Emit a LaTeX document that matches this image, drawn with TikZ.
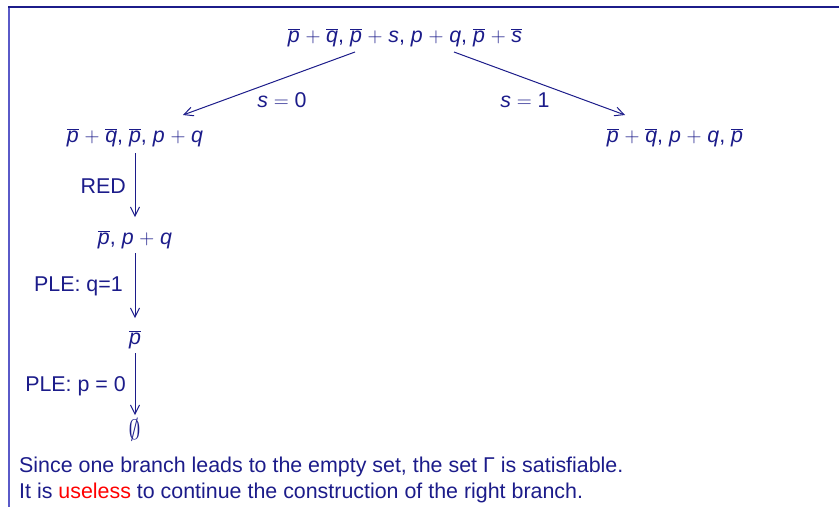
\documentclass[tikz,border=0pt]{standalone}
\usepackage{fontspec}
\usepackage{graphicx}
\setmainfont{Liberation Sans}
\usetikzlibrary{arrows.meta}
\definecolor{txtblue}{RGB}{28,28,138}
\definecolor{framelight}{RGB}{90,90,200}
\newcommand\olv[1]{\ensuremath{\overline{\mbox{\itshape #1}}}}
\newcommand\iv[1]{\ensuremath{\mbox{\itshape #1}}}
\newcommand\pl{\ensuremath{\mkern5mu+\mkern5mu}}
\newcommand\eqq{\ensuremath{\mkern5mu=\mkern5mu}}
\begin{document}
\begin{tikzpicture}[x=1pt,y=-1pt,
  every node/.style={text=txtblue,inner sep=0pt,font=\fontsize{21.4}{25}\selectfont},
  expr/.style={anchor=base},
  lbl/.style={anchor=base east},
  arr/.style={draw=txtblue,line width=1pt,-{Straight Barb[length=9pt,width=9pt]}}]
\useasboundingbox (0,0) rectangle (839,507);
% frame
\draw[framelight,line width=2pt] (8.5,6) -- (8.5,507);
\draw[txtblue,line width=2pt] (8,6.5) -- (839,6.5);
% nodes
\node[expr] (top) at (405,42) {\olv{p}\pl\olv{q}, \olv{p}\pl\iv{s}, \iv{p}\pl\iv{q}, \olv{p}\pl\olv{s}};
\node[expr] (left) at (135,142) {\olv{p}\pl\olv{q}, \olv{p}, \iv{p}\pl\iv{q}};
\node[expr] (right) at (675,142) {\olv{p}\pl\olv{q}, \iv{p}\pl\iv{q}, \olv{p}};
\node[expr] (n2) at (135,244) {\olv{p}, \iv{p}\pl\iv{q}};
\node[expr] (n3) at (135,344) {\olv{p}};
\node[expr] (n4) at (134.5,439) {\scalebox{1.15}[1.35]{$\emptyset$}};
% connectors
\draw[arr] ([xshift=-50pt,yshift=-10pt]top.base) -- ([xshift=48pt,yshift=27pt]left.base);
\draw[arr] ([xshift=49pt,yshift=-10pt]top.base) -- ([xshift=-50pt,yshift=27pt]right.base);
\draw[arr] ([yshift=-11pt]left.base) -- ([yshift=27pt]n2.base);
\draw[arr] ([yshift=-9pt]n2.base) -- ([yshift=26pt]n3.base);
\draw[arr] ([yshift=-9pt]n3.base) -- ([xshift=0.5pt,yshift=24pt]n4.base);
% labels
\node[anchor=base] (l0) at (282,107) {\iv{s}\eqq 0};
\node[anchor=base] (l1) at (525,107) {\iv{s}\eqq 1};
\node[lbl] (lred) at (126,193) {RED};
\node[lbl] (lq) at (123,291) {PLE: q=1};
\node[lbl] (lp) at (126,391) {PLE: p = 0};
% text
\node[anchor=base west] (t1) at (19,472) {Since one branch leads to the empty set, the set Γ is satisfiable.};
\node[anchor=base west] (t2) at (19,498) {It is \textcolor{red}{useless} to continue the construction of the right branch.};
\end{tikzpicture}
\end{document}
